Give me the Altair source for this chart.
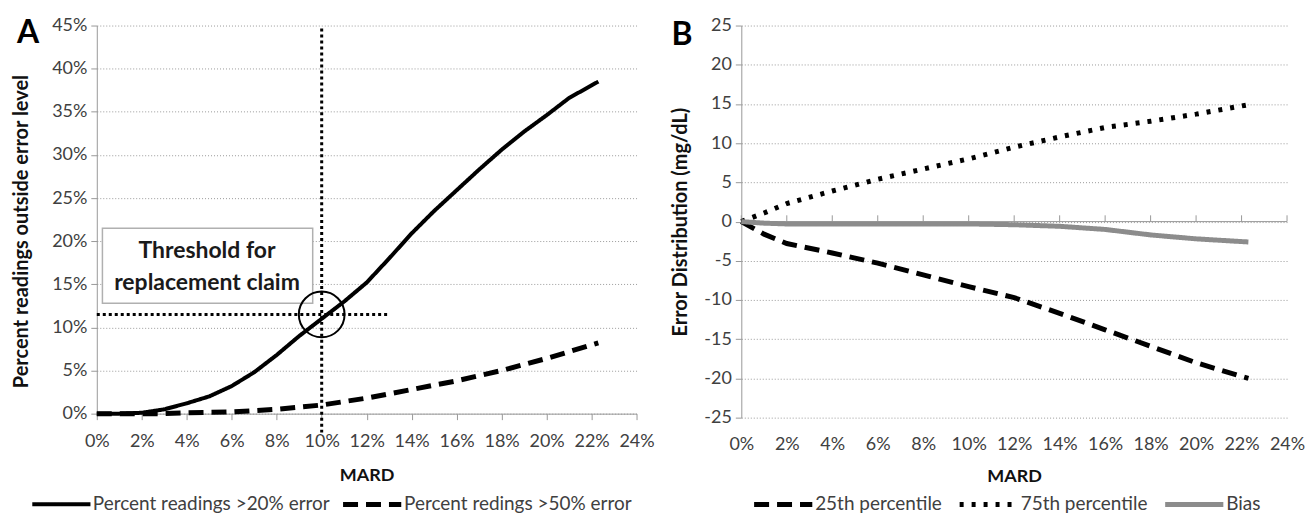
import altair as alt
import pandas as pd

FONT = "Lato"

# ---------------- Panel A data ----------------
mard_20 = [0, 1, 2, 3, 4, 5, 6, 7, 8, 9, 10, 11, 12, 13, 14, 15, 16, 17, 18, 19, 20, 21, 22.3]
pct_20 = [0, 0, 0.1, 0.5, 1.2, 2.0, 3.2, 4.8, 6.8, 9.0, 11.0, 13.0, 15.2, 18.0, 20.9, 23.5, 25.9, 28.3, 30.6, 32.7, 34.6, 36.6, 38.5]
mard_50 = [0, 2, 3, 4, 6, 8, 10, 12, 14, 16, 18, 20, 22.3]
pct_50 = [0, 0, 0, 0.1, 0.2, 0.5, 1.0, 1.8, 2.8, 3.8, 5.0, 6.4, 8.2]
series_a = ["Percent readings >20% error", "Percent redings >50% error"]

# threshold annotation
thr_x = 10
thr_y = 11.5
thr_line_end_x = 13
thr_vline_y = [-2.2, 45]
box_x = [0.25, 9.6]
box_y = [12.8, 21.5]
box_text = ["Threshold for", "replacement claim"]
box_text_y = [18.9, 15.1]
box_text_x = 4.9

# ---------------- Panel B data ----------------
mard_b = [0, 1, 2, 4, 6, 8, 10, 12, 14, 16, 18, 20, 22.3]
p25 = [0, -1.6, -2.8, -4.0, -5.3, -6.8, -8.3, -9.7, -11.7, -13.8, -15.9, -18.0, -20.0]
p75 = [0, 1.1, 2.3, 3.9, 5.4, 6.7, 8.0, 9.5, 10.8, 12.0, 12.8, 13.7, 14.9]
bias = [0, -0.2, -0.3, -0.3, -0.3, -0.3, -0.3, -0.4, -0.6, -1.0, -1.7, -2.2, -2.6]
series_b = ["25th percentile", "75th percentile", "Bias"]

x_ticks = list(range(0, 25, 2))
ya_ticks = list(range(0, 46, 5))
yb_ticks = list(range(-25, 26, 5))

# ---------------- Build tables ----------------
df_a = pd.DataFrame(
    [{"mard": m, "pct": p, "series": series_a[0]} for m, p in zip(mard_20, pct_20)]
    + [{"mard": m, "pct": p, "series": series_a[1]} for m, p in zip(mard_50, pct_50)]
)
df_b = pd.DataFrame(
    [{"mard": m, "val": v, "series": series_b[0]} for m, v in zip(mard_b, p25)]
    + [{"mard": m, "val": v, "series": series_b[1]} for m, v in zip(mard_b, p75)]
    + [{"mard": m, "val": v, "series": series_b[2]} for m, v in zip(mard_b, bias)]
)

LABEL_COLOR = "#404040"
GRID = dict(grid=True, gridColor="#9a9a9a", gridDash=[1, 2], gridWidth=1)

x_axis_a = alt.Axis(values=x_ticks, labelExpr="datum.value + '%'", title="MARD",
                    domainColor="#999999", tickColor="#999999", tickSize=6,
                    labelPadding=13, titlePadding=16, grid=False,
                    labelFlush=False, labelOverlap=False)
y_axis_a = alt.Axis(values=ya_ticks, labelExpr="datum.value + '%'",
                    title="Percent readings outside error level", titleFontSize=20, titleY=206,
                    domainColor="#999999", tickColor="#999999", tickSize=6,
                    labelPadding=4, titlePadding=20, labelOverlap=False, **GRID)
xs_a = alt.Scale(domain=[0, 24], nice=False)
ys_a = alt.Scale(domain=[0, 45], nice=False)

legend_a = alt.Legend(orient="none", legendX=-67, legendY=448, direction="horizontal",
                      title=None, symbolType="stroke", symbolSize=3400,
                      symbolStrokeWidth=5, labelFontSize=19, labelColor=LABEL_COLOR,
                      labelFont=FONT, columnPadding=2, labelOffset=0, labelLimit=400)

lines_a = alt.Chart(df_a).mark_line(strokeCap="butt").encode(
    x=alt.X("mard:Q", scale=xs_a, axis=x_axis_a),
    y=alt.Y("pct:Q", scale=ys_a, axis=y_axis_a),
    color=alt.Color("series:N", scale=alt.Scale(domain=series_a, range=["black", "black"]), legend=legend_a),
    strokeDash=alt.StrokeDash("series:N", scale=alt.Scale(domain=series_a, range=[[1, 0], [15, 8]]), legend=legend_a),
    strokeWidth=alt.StrokeWidth("series:N", scale=alt.Scale(domain=series_a, range=[4, 5]), legend=legend_a),
)

vline_df = pd.DataFrame({"x": [thr_x], "y1": [thr_vline_y[0]], "y2": [thr_vline_y[1]]})
vline = alt.Chart(vline_df).mark_rule(color="black", strokeWidth=3, strokeDash=[3, 3]).encode(
    x=alt.X("x:Q", scale=xs_a, axis=x_axis_a), y=alt.Y("y1:Q", scale=ys_a, axis=y_axis_a), y2="y2:Q")

hline_df = pd.DataFrame({"x1": [0], "x2": [thr_line_end_x], "y": [thr_y]})
hline = alt.Chart(hline_df).mark_rule(color="black", strokeWidth=3, strokeDash=[3, 3]).encode(
    x=alt.X("x1:Q", scale=xs_a, axis=x_axis_a), x2="x2:Q", y=alt.Y("y:Q", scale=ys_a, axis=y_axis_a))

circle_df = pd.DataFrame({"x": [thr_x], "y": [thr_y]})
circle = alt.Chart(circle_df).mark_point(shape="circle", size=2100, filled=False,
                                         color="black", strokeWidth=2, opacity=1).encode(
    x=alt.X("x:Q", scale=xs_a, axis=x_axis_a), y=alt.Y("y:Q", scale=ys_a, axis=y_axis_a))

box_df = pd.DataFrame({"x1": [box_x[0]], "x2": [box_x[1]], "y1": [box_y[0]], "y2": [box_y[1]]})
box = alt.Chart(box_df).mark_rect(fill="white", stroke="#b0b0b0", strokeWidth=1.5).encode(
    x=alt.X("x1:Q", scale=xs_a, axis=x_axis_a), x2="x2:Q",
    y=alt.Y("y1:Q", scale=ys_a, axis=y_axis_a), y2="y2:Q")

text_df = pd.DataFrame({"t": box_text, "x": [box_text_x] * 2, "y": box_text_y})
box_txt = alt.Chart(text_df).mark_text(font=FONT, fontSize=23, fontWeight="bold",
                                       color="#1a1a1a", align="center", baseline="middle").encode(
    x=alt.X("x:Q", scale=xs_a, axis=x_axis_a), y=alt.Y("y:Q", scale=ys_a, axis=y_axis_a), text="t:N")

label_a = alt.Chart(pd.DataFrame({"t": ["A"]})).mark_text(
    font=FONT, fontSize=32, fontWeight="bold", color="black", align="left", baseline="top"
).encode(x=alt.value(-80), y=alt.value(-8), text="t:N")

panel_a = alt.layer(box, lines_a, vline, hline, circle, box_txt, label_a).properties(width=541, height=389)

# ---------------- Panel B ----------------
x_axis_b = alt.Axis(values=x_ticks, labelExpr="datum.value + '%'", title="MARD",
                    domain=False, ticks=False, labelPadding=18, titlePadding=14, grid=False,
                    labelFlush=False, labelOverlap=False)
y_axis_b = alt.Axis(values=yb_ticks, labelExpr="'' + datum.value", title="Error Distribution (mg/dL)",
                    titleFontSize=20,
                    domainColor="#999999", tickColor="#999999", tickSize=6,
                    labelPadding=4, titlePadding=13, labelOverlap=False, **GRID)
xs_b = alt.Scale(domain=[0, 24], nice=False)
ys_b = alt.Scale(domain=[-25, 25], nice=False)

legend_b = alt.Legend(orient="none", legendX=10, legendY=448, direction="horizontal",
                      title=None, symbolType="stroke", symbolSize=3400,
                      symbolStrokeWidth=5, labelFontSize=19, labelColor=LABEL_COLOR,
                      labelFont=FONT, columnPadding=6, labelOffset=0, labelLimit=400)

zero_df = pd.DataFrame({"x1": [0], "x2": [24], "y": [0]})
zero_line = alt.Chart(zero_df).mark_rule(color="#999999", strokeWidth=1).encode(
    x=alt.X("x1:Q", scale=xs_b, axis=x_axis_b), x2="x2:Q", y=alt.Y("y:Q", scale=ys_b, axis=y_axis_b))

tick_df = pd.DataFrame({"x": x_ticks, "y1": [0] * len(x_ticks), "y2": [0.8] * len(x_ticks)})
zero_ticks = alt.Chart(tick_df).mark_rule(color="#999999", strokeWidth=1).encode(
    x=alt.X("x:Q", scale=xs_b, axis=x_axis_b), y=alt.Y("y1:Q", scale=ys_b, axis=y_axis_b), y2="y2:Q")

lines_b = alt.Chart(df_b).mark_line(strokeCap="butt").encode(
    x=alt.X("mard:Q", scale=xs_b, axis=x_axis_b),
    y=alt.Y("val:Q", scale=ys_b, axis=y_axis_b),
    color=alt.Color("series:N", scale=alt.Scale(domain=series_b, range=["black", "black", "#8c8c8c"]), legend=legend_b),
    strokeDash=alt.StrokeDash("series:N", scale=alt.Scale(domain=series_b, range=[[15, 8], [4, 8], [1, 0]]), legend=legend_b),
    strokeWidth=alt.StrokeWidth("series:N", scale=alt.Scale(domain=series_b, range=[5, 5, 6]), legend=legend_b),
)

label_b = alt.Chart(pd.DataFrame({"t": ["B"]})).mark_text(
    font=FONT, fontSize=32, fontWeight="bold", color="black", align="left", baseline="top"
).encode(x=alt.value(-70), y=alt.value(-6), text="t:N")

panel_b = alt.layer(zero_line, zero_ticks, lines_b, label_b).properties(width=547, height=393)

chart = alt.hconcat(panel_a, panel_b, spacing=105, bounds="flush").resolve_scale(
    color="independent", strokeDash="independent", strokeWidth="independent"
).configure(
    font=FONT, padding={"left": 3, "top": 8, "right": 0, "bottom": 0}
).configure_axis(
    labelFont=FONT, labelFontSize=18, labelColor=LABEL_COLOR,
    titleFont=FONT, titleFontSize=18, titleFontWeight="bold", titleColor="#111111",
).configure_view(stroke=None)

chart.save("out.html", embed_options={"renderer": "svg", "actions": False})
